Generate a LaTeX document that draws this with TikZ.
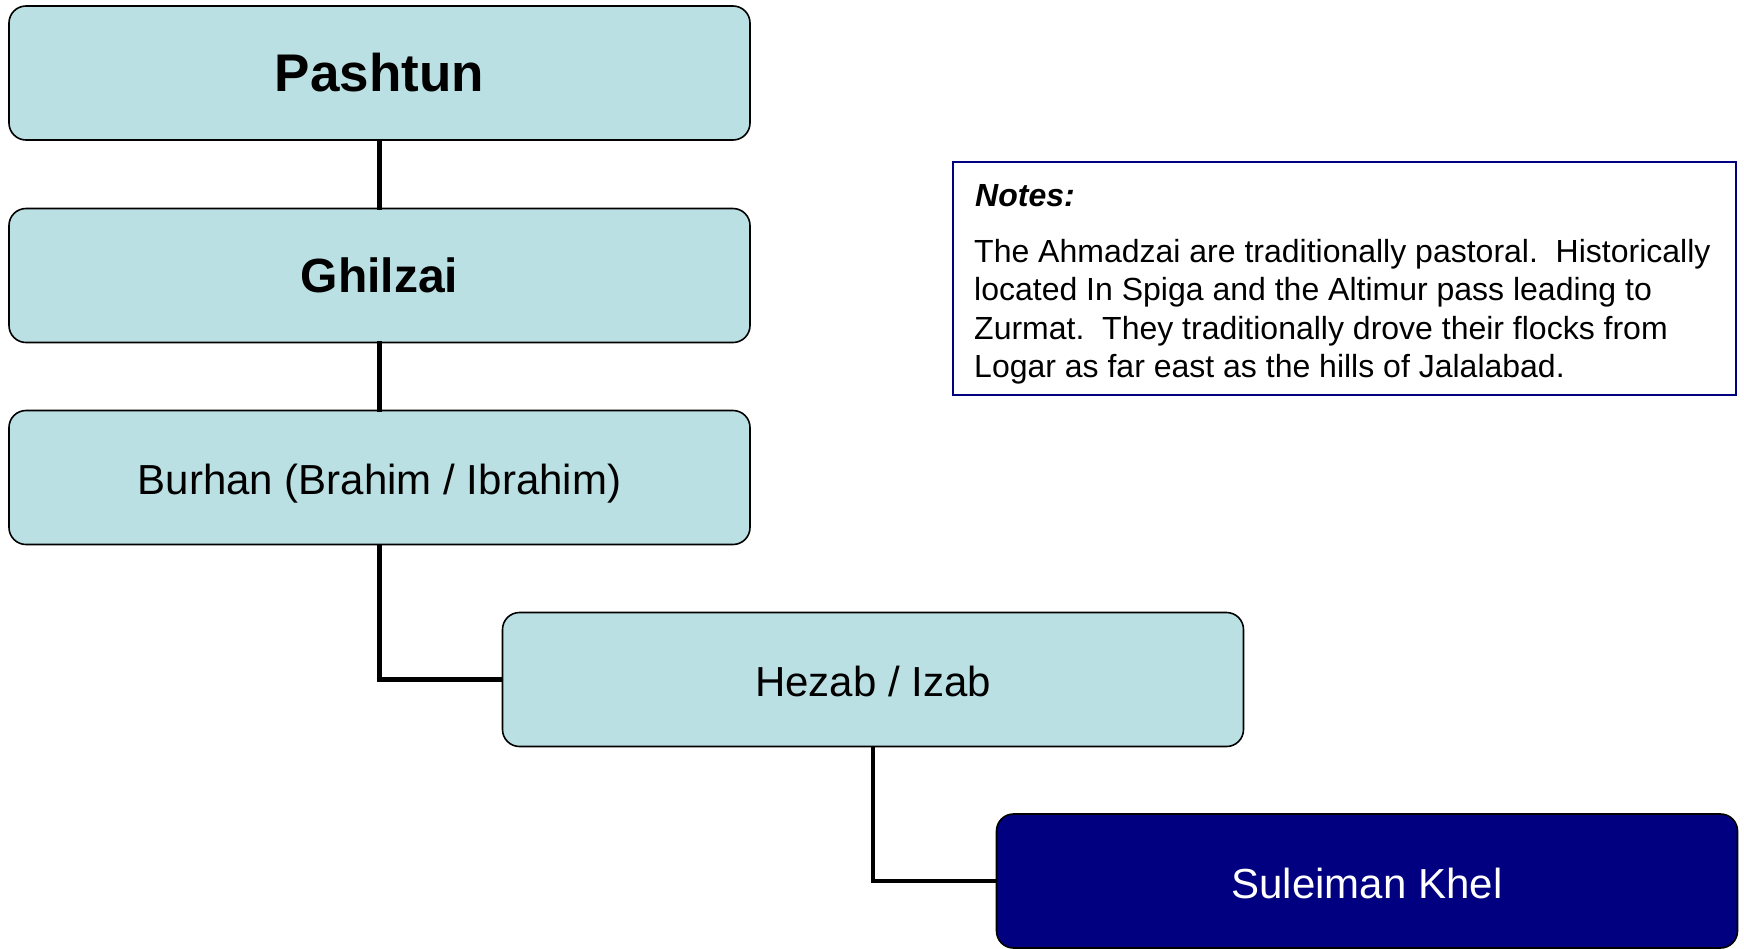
\documentclass[tikz,border=0pt]{standalone}
\usepackage{fontspec}
\setmainfont{Liberation Sans}
\frenchspacing
\definecolor{boxfill}{RGB}{187,224,227}
\definecolor{navyblue}{RGB}{0,0,128}
\begin{document}
\begin{tikzpicture}[x=1pt,y=-1pt,
  tribe/.style={draw=black, line width=1.6pt, fill=boxfill, rounded corners=17pt,
    minimum width=741pt, minimum height=134pt, inner sep=0pt,
    text height=34pt, text depth=0pt,
    font=\fontsize{42}{48}\selectfont},
  topbox/.style={tribe, text height=, text depth=, font=\fontsize{48}{54}\selectfont\bfseries},
  leafbox/.style={tribe, fill=navyblue, text=white},
  link/.style={line width=4.5pt, line cap=rect}]
\useasboundingbox (0,0) rectangle (1744,948);
\node[topbox, font=\fontsize{53}{58}\selectfont\bfseries] (pashtun) at (379.5,73) {Pashtun};
\node[topbox] (ghilzai) at (379.5,275.5) {Ghilzai};
\node[tribe] (burhan) at (379.5,477.5) {Burhan (Brahim / Ibrahim)};
\node[tribe] (hezab) at (873,679.5) {Hezab / Izab};
\node[leafbox] (suleiman) at (1367,881) {Suleiman Khel};
\draw[link] (pashtun.south) -- (ghilzai.north);
\draw[link] (ghilzai.south) -- (burhan.north);
\draw[link, line cap=butt] (burhan.south) |- (hezab.west);
\draw[link, line cap=butt] (hezab.south) |- (suleiman.west);
\node[draw=navyblue, line width=2pt, minimum width=783pt, minimum height=233pt, inner sep=0pt] (notes) at (1344.5,278.5) {};
\node[anchor=base west, inner sep=0pt, font=\fontsize{32}{38}\selectfont\bfseries\itshape] (noteslabel) at (975,206) {Notes:};
\node[anchor=north west, inner sep=0pt, align=left, font=\fontsize{32}{38.5}\selectfont] (notesbody) at (974,239)
{The Ahmadzai are traditionally pastoral.~ Historically\\
located In Spiga and the Altimur pass leading to\\
Zurmat.~ They traditionally drove their flocks from\\
Logar as far east as the hills of Jalalabad.};
\end{tikzpicture}
\end{document}
